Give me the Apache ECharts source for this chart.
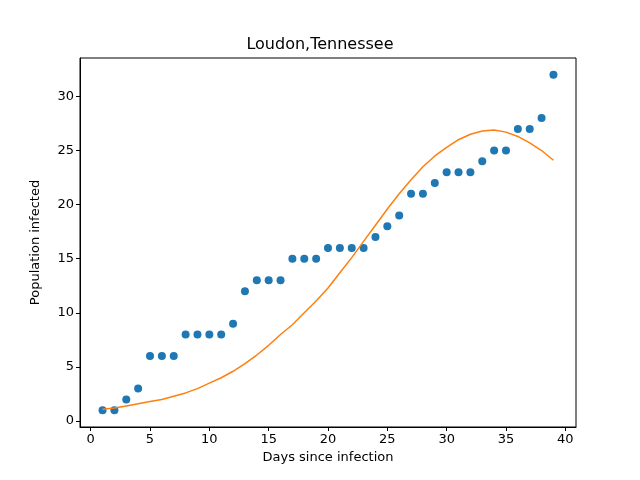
<!DOCTYPE html>
<html>
<head>
<meta charset="UTF-8">
<script src="https://cdn.jsdelivr.net/npm/echarts/dist/echarts.min.js"></script>
<style>body{margin:0;background:#fff}#chart{width:640px;height:480px}</style>
</head>
<body>
<div id="chart"></div>
<script>
var days = [];
for (var d = 1; d <= 39; d++) days.push(d);
var infected = [1,1,2,3,6,6,6,8,8,8,8,9,12,13,13,13,15,15,15,16,16,16,16,17,18,19,21,21,22,23,23,23,24,25,25,27,27,28,32];
var fitted = [1.1,1.2,1.4,1.6,1.8,2.0,2.3,2.6,3.0,3.5,4.0,4.6,5.3,6.1,7.0,8.0,8.9,10.0,11.1,12.3,13.7,15.1,16.6,18.1,19.6,21.0,22.3,23.5,24.5,25.3,26.0,26.5,26.8,26.9,26.7,26.3,25.7,25.0,24.1];
var xTicks = [0,5,10,15,20,25,30,35,40];
var yTicks = [0,5,10,15,20,25,30];

var chart = echarts.init(document.getElementById('chart'));
var ax = {
    axisLine: {onZero: false, lineStyle: {color: '#000'}},
    axisTick: {inside: false, length: 4, lineStyle: {color: '#000'}},
    axisLabel: {color: '#000', fontSize: 13, fontFamily: 'DejaVu Sans'},
    splitLine: {show: false},
    nameTextStyle: {color: '#000', fontSize: 13, fontFamily: 'DejaVu Sans'}
};
chart.setOption({
    animation: false,
    title: {text: 'Loudon,Tennessee', left: 'center', top: 32,
        textStyle: {fontSize: 16, fontWeight: 'normal', color: '#000', fontFamily: 'DejaVu Sans'}},
    grid: {left: 80, right: 64, top: 58, bottom: 53, show: true, borderColor: '#000', borderWidth: 1},
    xAxis: Object.assign({}, ax, {
        type: 'value', min: -0.9, max: 40.9,
        name: 'Days since infection', nameLocation: 'middle', nameGap: 24,
        axisTick: Object.assign({}, ax.axisTick, {customValues: xTicks}),
        axisLabel: Object.assign({}, ax.axisLabel, {customValues: xTicks, margin: 6})
    }),
    yAxis: Object.assign({}, ax, {
        type: 'value', min: -0.55, max: 33.55,
        name: 'Population infected', nameLocation: 'middle', nameGap: 38,
        axisTick: Object.assign({}, ax.axisTick, {customValues: yTicks}),
        axisLabel: Object.assign({}, ax.axisLabel, {customValues: yTicks, margin: 6})
    }),
    series: [
        {type: 'scatter', symbolSize: 8, itemStyle: {color: '#1f77b4', opacity: 1},
            data: days.map(function (x, i) { return [x, infected[i]]; })},
        {type: 'line', showSymbol: false, lineStyle: {color: '#ff7f0e', width: 1.5},
            data: days.map(function (x, i) { return [x, fitted[i]]; })}
    ]
});
</script>
</body>
</html>
